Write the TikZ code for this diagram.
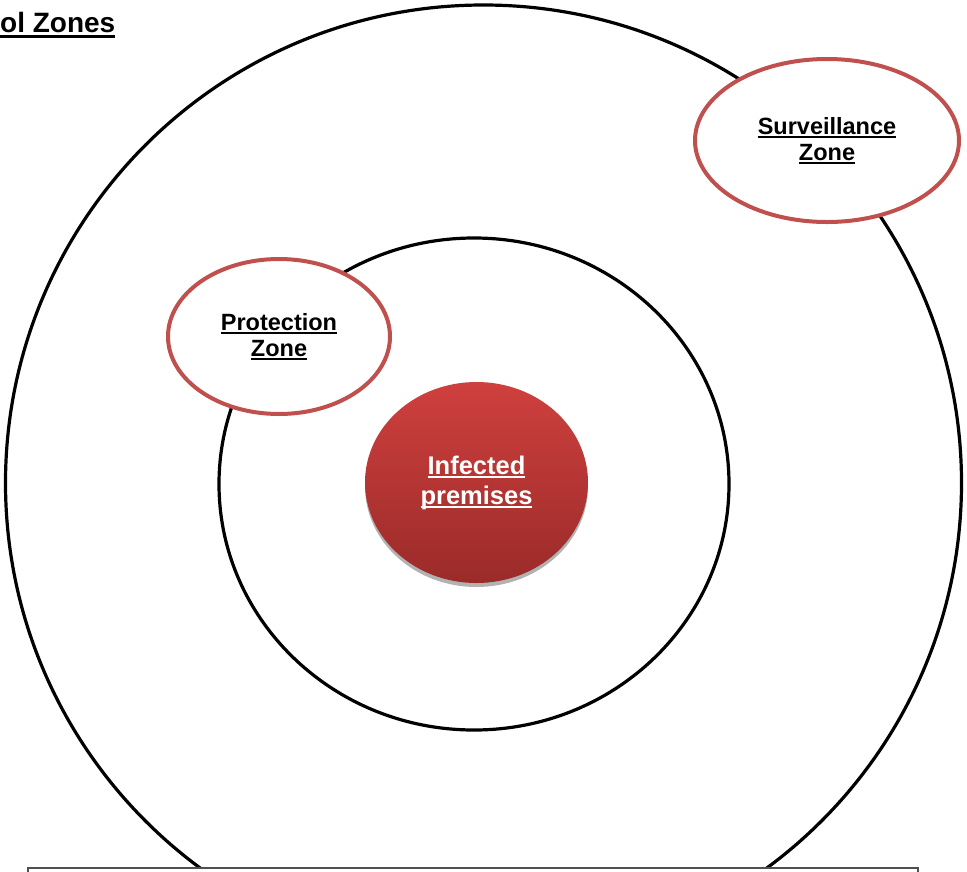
\documentclass[tikz,border=0pt]{standalone}
\usepackage{fontspec}
\setmainfont{Liberation Sans}
\usepackage{tikz}
\definecolor{zonered}{RGB}{192,80,77}
\definecolor{iptop}{RGB}{207,64,62}
\definecolor{ipbottom}{RGB}{154,43,41}
\definecolor{boxgrey}{RGB}{80,80,80}
\usetikzlibrary{shapes.geometric, shadows}
\newsavebox{\ulbox}
\newcommand*{\zul}[1]{\sbox{\ulbox}{#1}\rlap{\usebox{\ulbox}}\rule[-3.5pt]{\wd\ulbox}{2pt}}
\newcommand*{\tul}[1]{\sbox{\ulbox}{#1}\rlap{\usebox{\ulbox}}\rule[-6pt]{\wd\ulbox}{3.5pt}}
\tikzset{%
  ring/.style={draw, ellipse, line width=3.2pt, inner sep=0pt},% control zone boundary
  zone/.style={draw=zonered, fill=white, ellipse, line width=4pt, inner sep=0pt,
    align=center, font=\bfseries\fontsize{23.5}{26}\selectfont},% zone label bubble
  premises/.style={ellipse, inner sep=0pt, align=center, text=white,
    top color=iptop, bottom color=ipbottom,
    drop shadow={opacity=0.3, shadow xshift=0pt, shadow yshift=-4pt, fill=black},
    font=\bfseries\fontsize{25.5}{30}\selectfont},% infected premises
  title/.style={anchor=base west, inner sep=0pt, font=\bfseries\fontsize{28}{32}\selectfont}
}

\begin{document}
\begin{tikzpicture}[x=1pt, y=-1pt]
\useasboundingbox (0,0) rectangle (967,871);
\clip (0,0) rectangle (967,871);

\node[ring, minimum width=956pt, minimum height=956pt] (sz) at (483.5,483) {};
\node[ring, minimum width=510pt, minimum height=492pt] (pz) at (474,484) {};

\node[zone, minimum width=222pt, minimum height=155pt] (pzl) at (279,336.5)
  {\zul{Protection}\\\zul{Zone}};
\node[zone, minimum width=264pt, minimum height=163pt] (szl) at (827,140.5)
  {\zul{Surveillance}\\\zul{Zone}};
\node[premises, minimum width=223pt, minimum height=201pt] (ip) at (476.5,482.5)
  {\zul{Infected}\\\zul{premises}};
\node[title] (ttl) at (0,32) {\tul{ol Zones}};

\draw[boxgrey, line width=1.5pt, fill=white] (28,868) rectangle (918,900);
\end{tikzpicture}
\end{document}
